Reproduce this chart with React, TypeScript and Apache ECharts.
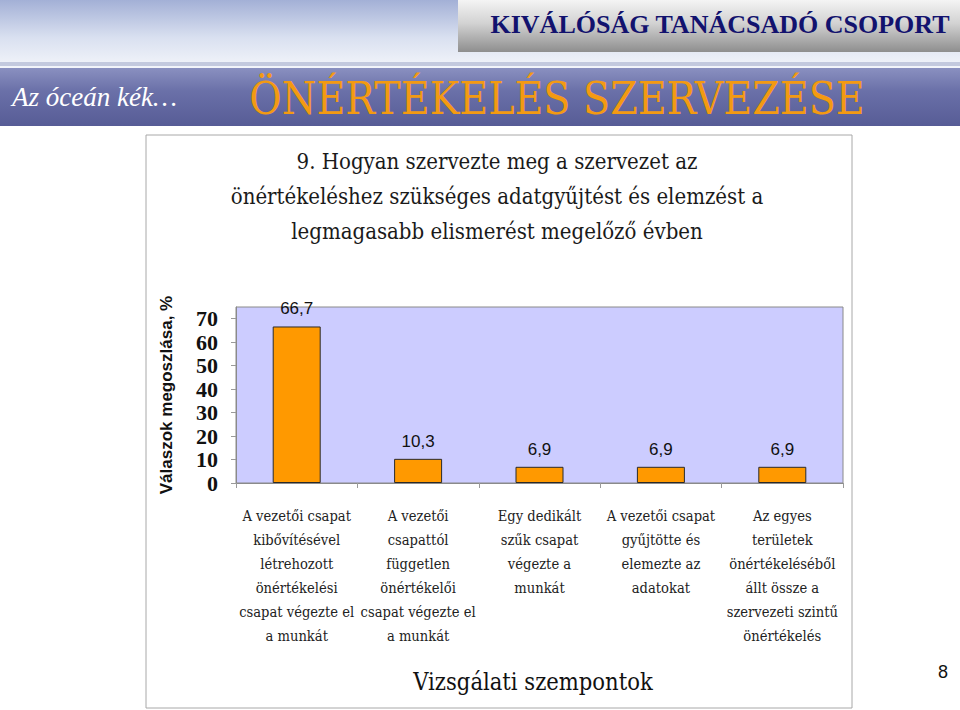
import React, { useEffect, useRef } from 'react'
import * as echarts from 'echarts'

// kategóriák (vizsgálati szempontok) és értékek, %
const categories = [
  'A vezetői csapat\nkibővítésével\nlétrehozott\nönértékelési\ncsapat végezte el\na munkát',
  'A vezetői\ncsapattól\nfüggetlen\nönértékelői\ncsapat végezte el\na munkát',
  'Egy dedikált\nszűk csapat\nvégezte a\nmunkát',
  'A vezetői csapat\ngyűjtötte és\nelemezte az\nadatokat',
  'Az egyes\nterületek\nönértékeléséből\nállt össze a\nszervezeti szintű\nönértékelés'
]
const values = [66.7, 10.3, 6.9, 6.9, 6.9]

const titleLines = [
  '9. Hogyan szervezte meg a szervezet az',
  'önértékeléshez szükséges adatgyűjtést és elemzést a',
  'legmagasabb elismerést megelőző évben'
]

const SERIF = 'Liberation Serif, DejaVu Serif, serif'
const SERIF_REG = 'DejaVu Serif Condensed, DejaVu Serif, serif'
const SANS = 'Liberation Sans, Arial, sans-serif'

const App: React.FC = () => {
  const chartRef = useRef<HTMLDivElement>(null)

  useEffect(() => {
    if (!chartRef.current) return
    const chart = echarts.init(chartRef.current, undefined, { renderer: 'svg' })

    const option = {
      animation: false,
      backgroundColor: '#ffffff',
      graphic: [
        // fejléc: égbolt
        {
          type: 'rect', z: -20, silent: true,
          shape: { x: 0, y: 0, width: 960, height: 68 },
          style: {
            fill: new echarts.graphic.LinearGradient(0, 0, 0, 1, [
              { offset: 0, color: '#a3b0d6' },
              { offset: 0.55, color: '#d9e0f0' },
              { offset: 1, color: '#f3f5fa' }
            ])
          }
        },
        {
          type: 'rect', z: -19, silent: true,
          shape: { x: 0, y: 62, width: 960, height: 4 },
          style: { fill: '#c3c9de' }
        },
        // sötétkék sáv
        {
          type: 'rect', z: -19, silent: true,
          shape: { x: 0, y: 68, width: 960, height: 58 },
          style: {
            fill: new echarts.graphic.LinearGradient(0, 0, 0, 1, [
              { offset: 0, color: '#8a90c0' },
              { offset: 0.4, color: '#6a70a8' },
              { offset: 1, color: '#575c96' }
            ])
          }
        },
        // szürke doboz
        {
          type: 'rect', z: -18, silent: true,
          shape: { x: 458, y: 0, width: 502, height: 52 },
          style: {
            fill: new echarts.graphic.LinearGradient(0, 0, 0, 1, [
              { offset: 0, color: '#f4f4f4' },
              { offset: 0.45, color: '#d2d2d2' },
              { offset: 1, color: '#8e8e8e' }
            ])
          }
        },
        {
          type: 'text', z: 10,
          style: {
            text: 'KIVÁLÓSÁG TANÁCSADÓ CSOPORT',
            x: 720, y: 24, align: 'center', verticalAlign: 'middle',
            fontFamily: SERIF, fontWeight: 'bold', fontSize: 26, fill: '#12126e'
          }
        },
        {
          type: 'text', z: 10,
          style: {
            text: 'Az óceán kék…',
            x: 12, y: 97, align: 'left', verticalAlign: 'middle',
            fontFamily: SERIF, fontStyle: 'italic', fontSize: 27, fill: '#ffffff'
          }
        },
        {
          type: 'text', z: 10,
          style: {
            text: 'ÖNÉRTÉKELÉS SZERVEZÉSE',
            x: 557, y: 98, align: 'center', verticalAlign: 'middle',
            fontFamily: SERIF_REG, fontSize: 44, fill: '#f39a12'
          }
        },
        // fehér panel
        {
          type: 'rect', z: -15, silent: true,
          shape: { x: 146, y: 135, width: 706, height: 573 },
          style: { fill: '#ffffff', stroke: '#a8a8a8', lineWidth: 1 }
        },
        ...titleLines.map((t, i) => ({
          type: 'text', z: 10,
          style: {
            text: t,
            x: 497, y: 161 + i * 35, align: 'center', verticalAlign: 'middle',
            fontFamily: SERIF_REG, fontSize: 22, fill: '#1a1a1a'
          }
        })),
        {
          type: 'text', z: 10,
          style: {
            text: 'Vizsgálati szempontok',
            x: 533, y: 682, align: 'center', verticalAlign: 'middle',
            fontFamily: SERIF_REG, fontSize: 23.5, fill: '#111111'
          }
        },
        {
          type: 'text', z: 10,
          style: {
            text: '8',
            x: 943, y: 672, align: 'center', verticalAlign: 'middle',
            fontFamily: SANS, fontSize: 18, fill: '#111111'
          }
        }
      ],
      grid: {
        show: true,
        left: 236,
        right: 117,
        top: 307,
        bottom: 227,
        backgroundColor: '#ccccff',
        borderColor: '#8a8a8a',
        borderWidth: 1
      },
      xAxis: {
        type: 'category',
        data: categories,
        axisLine: { show: true, lineStyle: { color: '#8a8a8a' } },
        axisTick: { show: true, length: 5, lineStyle: { color: '#9a9a9a' } },
        axisLabel: {
          interval: 0,
          margin: 20,
          fontFamily: SERIF_REG,
          fontSize: 14.6,
          lineHeight: 24,
          color: '#222222',
          align: 'center'
        },
        splitLine: { show: false }
      },
      yAxis: {
        type: 'value',
        min: 0,
        max: 75,
        interval: 10,
        name: 'Válaszok megoszlása, %',
        nameLocation: 'middle',
        nameRotate: 90,
        nameGap: 61,
        nameTextStyle: {
          fontFamily: SANS,
          fontWeight: 'bold',
          fontSize: 17,
          color: '#111111'
        },
        axisLine: { show: true, lineStyle: { color: '#8a8a8a' } },
        axisTick: { show: true, length: 5, lineStyle: { color: '#9a9a9a' } },
        axisLabel: {
          showMinLabel: true,
          showMaxLabel: false,
          hideOverlap: false,
          margin: 18,
          fontFamily: SERIF,
          fontWeight: 'bold',
          fontSize: 22,
          color: '#111111'
        },
        splitLine: { show: false }
      },
      series: [
        {
          type: 'bar',
          data: values,
          barWidth: 48,
          itemStyle: { color: '#ff9900', borderColor: '#2a2a2a', borderWidth: 1 },
          label: {
            show: true,
            position: 'top',
            distance: 9,
            fontFamily: SANS,
            fontSize: 17,
            color: '#111111',
            formatter: (p: any) => String(p.value).replace('.', ',')
          }
        }
      ]
    }

    chart.setOption(option)
    return () => {
      chart.dispose()
    }
  }, [])

  return (
    <div
      ref={chartRef}
      style={{ position: 'absolute', left: 0, top: 0, width: 960, height: 710 }}
    />
  )
}

export default App
